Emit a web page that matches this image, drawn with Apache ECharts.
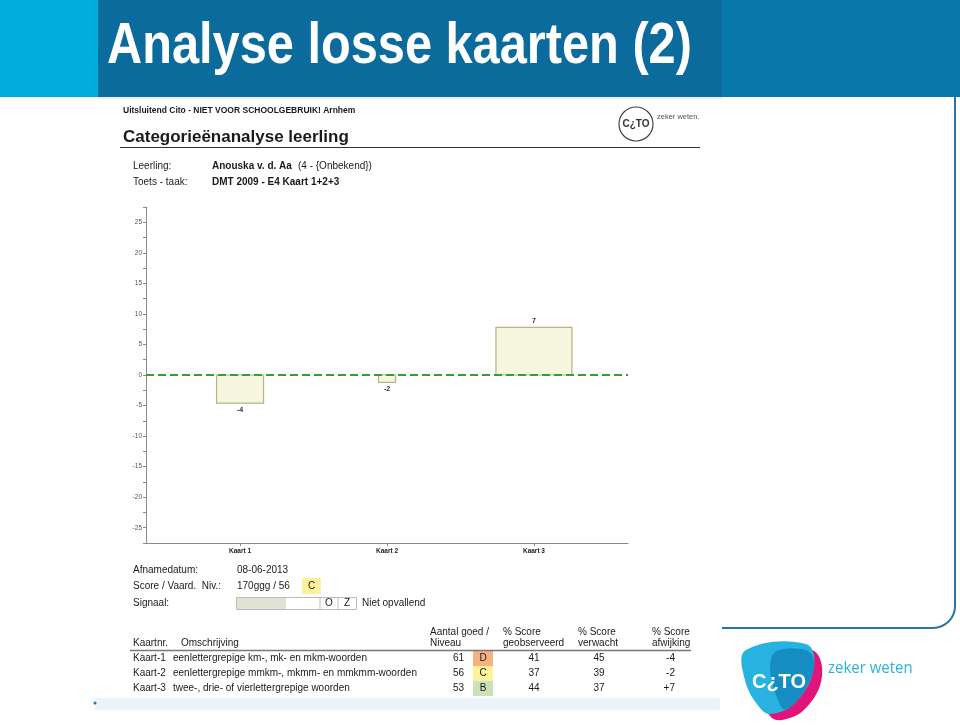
<!DOCTYPE html>
<html><head><meta charset="utf-8">
<script src="https://cdn.jsdelivr.net/npm/echarts@6/dist/echarts.min.js"></script>
<style>html,body{margin:0;padding:0;background:#fff}#c{width:960px;height:725px}</style>
</head><body><div id="c"></div>
<script>
// ---- data ----
const categories = ['Kaart 1', 'Kaart 2', 'Kaart 3'];
const afwijkingBar = [-4.6, -1.2, 7.8];        // drawn bar heights
const afwijkingLabel = ['-4', '-2', '7'];       // printed labels
const kaartNr = ['Kaart-1', 'Kaart-2', 'Kaart-3'];
const omschrijving = ['eenlettergrepige km-, mk- en mkm-woorden', 'eenlettergrepige mmkm-, mkmm- en mmkmm-woorden', 'twee-, drie- of vierlettergrepige woorden'];
const aantalGoed = [61, 56, 53];
const niveau = ['D', 'C', 'B'];
const scoreGeob = [41, 37, 44];
const scoreVerw = [45, 39, 37];
const scoreAfw = ['-4', '-2', '+7'];

const FONT = 'Liberation Sans, Arial, sans-serif';
const BAR_PX = [47, 17, 76];
const niveauKleur = { D: '#f6b183', C: '#fdf39a', B: '#c9e2b8' };

const g = [];
function t(x, y, text, o) {
  o = o || {};
  const el = { type: 'text', x: x, y: y, z: 20, style: {
    text: text, fontFamily: o.font || FONT, fontSize: o.size || 10, fontWeight: o.bold ? 'bold' : 'normal',
    fill: o.color || '#1a1a1a', align: o.align || 'left', verticalAlign: 'middle' } };
  if (o.scaleX) { el.scaleX = o.scaleX; }
  g.push(el);
}
function r(x, y, w, h, fill, stroke, z) {
  g.push({ type: 'rect', z: z == null ? 1 : z, shape: { x: x, y: y, width: w, height: h },
    style: { fill: fill || 'none', stroke: stroke || null, lineWidth: 1 } });
}
function ln(x1, y1, x2, y2, c, w) {
  g.push({ type: 'line', z: 5, shape: { x1: x1, y1: y1, x2: x2, y2: y2 }, style: { stroke: c, lineWidth: w || 1 } });
}
function poly(points, fill, z, smooth, opacity) {
  g.push({ type: 'polygon', z: z, shape: { points: points, smooth: smooth || 0 }, style: { fill: fill, opacity: opacity == null ? 1 : opacity } });
}

// header
r(0, 0, 98, 97, '#00aedb', null, 0);
r(98, 0, 624, 97, '#0a6b9c', null, 0);
r(722, 0, 238, 97, '#0878aa', null, 0);
r(98, 97, 624, 2, '#e6eef2', null, 0);
t(107, 47, 'Analyse losse kaarten (2)', { size: 58, bold: true, color: '#ffffff', scaleX: 0.84 });

// right frame
ln(955, 97, 955, 606, '#2a74a5', 2);
g.push({ type: 'arc', z: 5, shape: { cx: 933, cy: 606, r: 22, startAngle: 0, endAngle: Math.PI / 2 }, style: { stroke: '#2a74a5', lineWidth: 2, fill: 'none' } });
ln(933, 628, 722, 628, '#2a74a5', 2);

// report bottom band
r(95, 698, 625, 12, '#eaf5fb', null, 0);
g.push({ type: 'circle', z: 2, shape: { cx: 95, cy: 703, r: 1.5 }, style: { fill: '#2a74a5' } });

// report header
t(123, 111, 'Uitsluitend Cito - NIET VOOR SCHOOLGEBRUIK! Arnhem', { size: 8.5, bold: true });
t(123, 137, 'Categorieënanalyse leerling', { size: 17, bold: true });
ln(120, 147.5, 700, 147.5, '#333', 1);
g.push({ type: 'circle', z: 3, shape: { cx: 636, cy: 124, r: 17 }, style: { fill: 'none', stroke: '#444', lineWidth: 1.2 } });
t(636, 124, 'C¿TO', { size: 10, bold: true, align: 'center', color: '#333' });
t(657, 117, 'zeker weten.', { size: 7.5, color: '#555' });

t(133, 166, 'Leerling:', { size: 10 });
t(212, 166, 'Anouska v. d. Aa', { size: 10, bold: true });
t(298, 166, '(4 - {Onbekend})', { size: 10 });
t(133, 182, 'Toets - taak:', { size: 10 });
t(212, 182, 'DMT 2009 - E4 Kaart 1+2+3', { size: 10, bold: true });

// info below chart
t(133, 570, 'Afnamedatum:', { size: 10 });
t(237, 570, '08-06-2013', { size: 10 });
t(133, 586, 'Score / Vaard.  Niv.:', { size: 10 });
t(237, 586, '170ggg / 56', { size: 10 });
r(302, 578, 19, 16, '#fbf29b', null, 1);
t(311.5, 586, 'C', { size: 10, align: 'center' });
t(133, 603, 'Signaal:', { size: 10 });
r(236, 597, 50, 12, '#dfe3d3', null, 1);
r(236.5, 597.5, 120, 12, null, '#bbbbbb', 2);
ln(320, 597, 320, 609, '#bbb', 1);
ln(338, 597, 338, 609, '#bbb', 1);
t(329, 603.5, 'O', { size: 10, align: 'center' });
t(347, 603.5, 'Z', { size: 10, align: 'center' });
t(362, 603, 'Niet opvallend', { size: 10 });

// table
t(133, 643, 'Kaartnr.', { size: 10 });
t(181, 643, 'Omschrijving', { size: 10 });
t(430, 632, 'Aantal goed /', { size: 10 });
t(430, 643, 'Niveau', { size: 10 });
t(503, 632, '% Score', { size: 10 });
t(503, 643, 'geobserveerd', { size: 10 });
t(578, 632, '% Score', { size: 10 });
t(578, 643, 'verwacht', { size: 10 });
t(652, 632, '% Score', { size: 10 });
t(652, 643, 'afwijking', { size: 10 });
ln(130, 650.5, 691, 650.5, '#777', 1.5);
for (let i = 0; i < kaartNr.length; i++) {
  const y = 658 + i * 15;
  t(133, y, kaartNr[i], { size: 10 });
  t(173, y, omschrijving[i], { size: 10 });
  t(464, y, String(aantalGoed[i]), { size: 10, align: 'right' });
  r(473, y - 7, 20, 15, niveauKleur[niveau[i]], null, 1);
  t(483, y, niveau[i], { size: 10, align: 'center' });
  t(534, y, String(scoreGeob[i]), { size: 10, align: 'center' });
  t(599, y, String(scoreVerw[i]), { size: 10, align: 'center' });
  t(675, y, scoreAfw[i], { size: 10, align: 'right' });
}

// big cito logo
poly([[756, 652], [812, 650], [822, 676], [806, 708], [782, 720], [770, 716], [758, 690]], '#e2147c', 3, 0.4);
poly([[746, 650], [806, 644], [814, 668], [796, 702], [772, 714], [760, 708], [745, 680]], '#27b2df', 4, 0.4);
poly([[772, 656], [806, 650], [814, 668], [796, 702], [782, 708]], '#1180b8', 5, 0.4, 0.75);
t(779, 682, 'C¿TO', { size: 20, bold: true, color: '#ffffff', align: 'center' });
t(828, 668, 'zeker weten', { size: 17, color: '#2bb3dc', font: 'Open Sans, Liberation Sans, sans-serif', scaleX: 0.88 });

const chart = echarts.init(document.getElementById('c'));
chart.setOption({
  animation: false,
  backgroundColor: '#ffffff',
  graphic: g,
  grid: { left: 146, right: 332, top: 207, bottom: 182 },
  xAxis: {
    type: 'value', min: 0.36, max: 3.64,
    axisLine: { show: true, onZero: false, lineStyle: { color: '#8a8a8a', width: 1 } },
    axisTick: { show: true, customValues: [1, 2, 3], length: 3, lineStyle: { color: '#888' } },
    axisLabel: { customValues: [1, 2, 3], formatter: v => categories[Math.round(v) - 1], fontSize: 6.5, fontWeight: 'bold', color: '#222', margin: 5, fontFamily: FONT },
    splitLine: { show: false }
  },
  yAxis: {
    type: 'value', min: -27.5, max: 27.5, interval: 2.5,
    axisLine: { show: true, onZero: false, lineStyle: { color: '#8a8a8a', width: 1 } },
    axisTick: { show: true, length: 3, lineStyle: { color: '#888' } },
    axisLabel: { formatter: v => (Math.abs(v % 5) < 1e-6 ? String(v) : ''), fontSize: 6.5, color: '#555', margin: 4, fontFamily: FONT },
    splitLine: { show: false }
  },
  series: [
    {
      type: 'custom',
      data: categories.map((c, i) => [i + 1, afwijkingBar[i]]),
      renderItem: function (params, api) {
        const i = params.dataIndex;
        const x = api.value(0), v = api.value(1);
        const base = api.coord([x, 0]);
        const top = api.coord([x, v]);
        const w = BAR_PX[i];
        return { type: 'group', children: [
          { type: 'rect', shape: { x: base[0] - w / 2, y: Math.min(base[1], top[1]), width: w, height: Math.abs(base[1] - top[1]) },
            style: { fill: '#f7f7df', stroke: '#b2b585', lineWidth: 1.2 } },
          { type: 'text', style: { text: afwijkingLabel[i], x: base[0], y: v < 0 ? top[1] + 7 : top[1] - 6,
            align: 'center', verticalAlign: 'middle', fontSize: 7, fontWeight: 'bold', fill: '#333', fontFamily: FONT } }
        ] };
      }
    },
    {
      type: 'line', data: [], symbol: 'none', z: 5,
      markLine: { silent: true, symbol: 'none', label: { show: false },
        lineStyle: { color: '#33a033', type: [8, 4], width: 2 },
        data: [{ yAxis: 0 }] }
    }
  ]
});
</script></body></html>
